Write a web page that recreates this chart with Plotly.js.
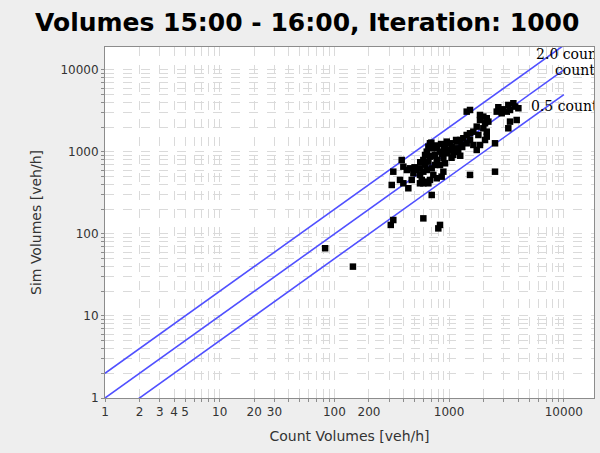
<!DOCTYPE html>
<html>
<head>
<meta charset="utf-8">
<script src="https://cdn.plot.ly/plotly-3.0.1.min.js"></script>
<style>html,body{margin:0;padding:0;background:#eeeeee;}#chart{width:600px;height:453px;}</style>
</head>
<body>
<div id="chart"></div>
<script>
// Count volumes (x) and simulated volumes (y), veh/h
const countVolumes = [
  83, 145,
  1423, 1521, 2685, 2970, 3281, 3631, 3757, 3396, 4016, 3177, 2600, 2873,
  1858, 1987, 2128, 1858, 2056, 2198, 3882, 3396, 3281,
  1740, 1987, 2128, 1626, 1521, 1799, 2128, 1423, 1330, 1245, 1164, 1521, 1423, 1288, 1164,
  1626, 1740, 1858, 2056, 2512,
  953, 1019, 1052, 921, 833, 953, 1019, 1088, 891, 780, 754,
  681, 659, 705, 780, 638, 617, 681, 596, 659, 754, 833, 921, 705, 638, 596, 557, 521,
  557, 577, 617, 681, 780, 861, 891, 728, 659, 596, 557,
  456, 427, 399, 386, 488, 472, 326, 373, 399, 441, 316,
  705, 1521, 2512,
  326, 310, 596, 833, 805,
  700, 750, 850, 900, 1100, 1200, 1300, 1150, 950, 870, 620, 560, 500, 700, 1050, 1250
];
const simVolumes = [
  67, 40,
  3104, 3251, 3508, 3313, 3742, 3926, 3573, 3251, 3413, 3104, 3104, 2965,
  2826, 2698, 2576, 2455, 2238, 2344, 2455, 2344, 1945,
  2037, 1945, 1770, 1770, 1690, 1611, 1538, 1611, 1469, 1400, 1336, 1400, 1276, 1217, 1109,
  1217, 1058, 1217, 1400, 1276,
  1336, 1276, 1161, 1109, 1009, 964, 1058, 919, 838, 798, 919,
  1276, 1161, 1109, 1109, 1009, 919, 877, 798, 762, 694, 694, 728, 632, 603, 575, 632, 603,
  525, 456, 435, 456, 478, 500, 575, 525, 415, 415, 415,
  632, 603, 662, 798, 550, 456, 575, 456, 415, 361, 396,
  299, 525, 575,
  148, 129, 155, 129, 117,
  1300, 1200, 1250, 1150, 1050, 1000, 1150, 1400, 1050, 950, 700, 750, 650, 900, 850, 900
];
// Reference lines: sim = factor * count
const refX = [1, 10000];
const refFactors = [2.0, 1.0, 0.5];
const refLabels = ["2.0 count", "count", "0.5 count"];
const refLabelX = [5725, 8380, 5176];
const refLabelY = [15200, 9460, 3441];

// Axis tick labels
const xTickLabels = [1, 2, 3, 4, 5, 10, 20, 30, 100, 200, 1000, 10000];
const yTickLabels = [1, 10, 100, 1000, 10000];

function gridVals(maxDec) {
  const v = [];
  for (let d = 0; d <= maxDec; d++) {
    for (let k = 1; k <= 9; k++) v.push(k * Math.pow(10, d));
  }
  return v;
}
const gv = gridVals(4);
const xText = gv.map(v => xTickLabels.includes(v) ? String(v) : "");
const yText = gv.map(v => yTickLabels.includes(v) ? String(v) : "");

const traces = [];
refFactors.forEach(f => {
  traces.push({
    x: refX, y: refX.map(v => v * f), mode: "lines", type: "scatter",
    line: {color: "rgb(80,80,255)", width: 1.6}, hoverinfo: "skip", showlegend: false
  });
});
traces.push({
  x: countVolumes, y: simVolumes, mode: "markers", type: "scatter",
  marker: {symbol: "square", size: 6.5, color: "#000"}, showlegend: false
});
traces.push({
  x: refLabelX, y: refLabelY, text: refLabels, mode: "text", type: "scatter",
  textposition: "middle right", cliponaxis: true,
  textfont: {family: "DejaVu Serif", size: 14, color: "#000"}, showlegend: false
});

const axisCommon = {
  type: "log", tickmode: "array", tickvals: gv,
  showgrid: true, gridcolor: "#dadada", griddash: "dash", gridwidth: 1,
  zeroline: false, showline: true, linecolor: "#8c8c8c", linewidth: 1, mirror: true,
  ticks: "outside", ticklen: 3, tickcolor: "#8c8c8c",
  tickfont: {family: "DejaVu Sans", size: 12, color: "#333"}
};

const layout = {
  width: 600, height: 453,
  paper_bgcolor: "#eeeeee", plot_bgcolor: "#ffffff",
  margin: {l: 105, r: 6, t: 47, b: 55},
  title: {text: "Volumes 15:00 - 16:00, Iteration: 1000", xref: "container", x: 0.512, yref: "container", y: 0.951, yanchor: "middle",
          font: {family: "DejaVu Sans", size: 25, color: "#000", weight: "bold"}},
  xaxis: Object.assign({}, axisCommon, {
    range: [0, 4.263], ticktext: xText,
    title: {text: "Count Volumes [veh/h]", standoff: 12, font: {family: "DejaVu Sans", size: 14, color: "#333"}}
  }),
  yaxis: Object.assign({}, axisCommon, {
    range: [0, 4.28], ticktext: yText,
    title: {text: "Sim Volumes [veh/h]", standoff: 15, font: {family: "DejaVu Sans", size: 14, color: "#333"}}
  }),
  showlegend: false
};

Plotly.newPlot("chart", traces, layout, {displayModeBar: false, staticPlot: true});
</script>
</body>
</html>
